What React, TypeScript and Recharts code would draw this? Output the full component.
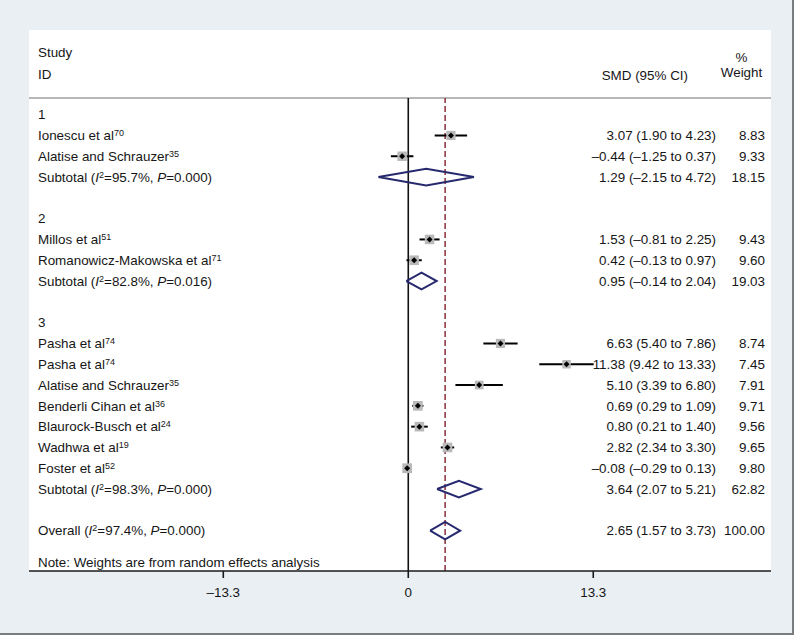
import React from 'react';
import { ComposedChart, Scatter, XAxis, YAxis, ErrorBar, ReferenceLine } from 'recharts';

// ---------- data ----------
const groupNames = ['1', '2', '3'];
const groupRows = [0, 5, 10];

const studyNames = [
  'Ionescu et al', 'Alatise and Schrauzer', 'Millos et al', 'Romanowicz-Makowska et al',
  'Pasha et al', 'Pasha et al', 'Alatise and Schrauzer', 'Benderli Cihan et al',
  'Blaurock-Busch et al', 'Wadhwa et al', 'Foster et al',
];
const studyRefs = ['70', '35', '51', '71', '74', '74', '35', '36', '24', '19', '52'];
const studyRows = [1, 2, 6, 7, 11, 12, 13, 14, 15, 16, 17];
const studySmd = [3.07, -0.44, 1.53, 0.42, 6.63, 11.38, 5.1, 0.69, 0.8, 2.82, -0.08];
const studyLow = [1.9, -1.25, 0.81, -0.13, 5.4, 9.42, 3.39, 0.29, 0.21, 2.34, -0.29];
const studyHigh = [4.23, 0.37, 2.25, 0.97, 7.86, 13.33, 6.8, 1.09, 1.4, 3.3, 0.13];
const studyWeights = [8.83, 9.33, 9.43, 9.6, 8.74, 7.45, 7.91, 9.71, 9.56, 9.65, 9.8];
const studySmdText = [
  '3.07 (1.90 to 4.23)', '–0.44 (–1.25 to 0.37)', '1.53 (–0.81 to 2.25)', '0.42 (–0.13 to 0.97)',
  '6.63 (5.40 to 7.86)', '11.38 (9.42 to 13.33)', '5.10 (3.39 to 6.80)', '0.69 (0.29 to 1.09)',
  '0.80 (0.21 to 1.40)', '2.82 (2.34 to 3.30)', '–0.08 (–0.29 to 0.13)',
];

const subtotalRows = [3, 8, 18];
const subtotalI2 = ['95.7', '82.8', '98.3'];
const subtotalP = ['0.000', '0.016', '0.000'];
const subtotalSmd = [1.29, 0.95, 3.64];
const subtotalLow = [-2.15, -0.14, 2.07];
const subtotalHigh = [4.72, 2.04, 5.21];
const subtotalWeights = ['18.15', '19.03', '62.82'];

const overallRow = 20;
const overallI2 = '97.4';
const overallP = '0.000';
const overallSmd = 2.65;
const overallLow = 1.57;
const overallHigh = 3.73;
const overallWeight = '100.00';

const noteRow = 21.5;
const noteText = 'Note: Weights are from random effects analysis';

const xTicks = [-13.3, 0, 13.3];
const xDomain = [-27.27, 26.08];
const yDomain = [-0.8, 21.94];

// ---------- helpers ----------
const FONT = '"Liberation Sans", Arial, sans-serif';
const FS = 13.4;
const TXT = '#161616';
const NAVY = '#27296f';

const fmt = (v: number) => (v < 0 ? '–' : '') + Math.abs(v).toFixed(2);

type Seg = { t: string; sup?: boolean; it?: boolean };
type RowInfo = { label: Seg[]; smd?: string; weight?: string };

const statLabel = (head: string, i2: string, p: string): Seg[] => [
  { t: head + ' (' },
  { t: 'I', it: true },
  { t: '2', sup: true },
  { t: '=' + i2 + '%, ' },
  { t: 'P', it: true },
  { t: '=' + p + ')' },
];

const rowMap = new Map<number, RowInfo>();
groupRows.forEach((r, i) => rowMap.set(r, { label: [{ t: groupNames[i] }] }));
studyRows.forEach((r, i) =>
  rowMap.set(r, {
    label: [{ t: studyNames[i] }, { t: studyRefs[i], sup: true }],
    smd: studySmdText[i],
    weight: studyWeights[i].toFixed(2),
  })
);
subtotalRows.forEach((r, i) =>
  rowMap.set(r, {
    label: statLabel('Subtotal', subtotalI2[i], subtotalP[i]),
    smd: `${fmt(subtotalSmd[i])} (${fmt(subtotalLow[i])} to ${fmt(subtotalHigh[i])})`,
    weight: subtotalWeights[i],
  })
);
rowMap.set(overallRow, {
  label: statLabel('Overall', overallI2, overallP),
  smd: `${fmt(overallSmd)} (${fmt(overallLow)} to ${fmt(overallHigh)})`,
  weight: overallWeight,
});
rowMap.set(noteRow, { label: [{ t: noteText }] });

const yTicks = Array.from(rowMap.keys()).sort((a, b) => a - b);

const studyData = studyRows.map((r, i) => ({
  x: studySmd[i],
  y: r,
  w: studyWeights[i],
  err: [studySmd[i] - studyLow[i], studyHigh[i] - studySmd[i]],
}));

const diamondData = (est: number, lo: number, hi: number, row: number, h: number) => [
  { x: lo, y: row },
  { x: est, y: row - h },
  { x: hi, y: row },
  { x: est, y: row + h },
  { x: lo, y: row },
];
const diamonds = [
  ...subtotalRows.map((r, i) => diamondData(subtotalSmd[i], subtotalLow[i], subtotalHigh[i], r, 0.4)),
  diamondData(overallSmd, overallLow, overallHigh, overallRow, 0.42),
];

// ---------- renderers ----------
function Label({ segs, x, y }: { segs: Seg[]; x: number; y: number }) {
  let raised = false;
  return (
    <text x={x} y={y + FS * 0.35} fontFamily={FONT} fontSize={FS} fill={TXT} textAnchor="start">
      {segs.map((s, k) => {
        let dy: number | undefined = undefined;
        if (s.sup && !raised) { dy = -4; raised = true; }
        else if (!s.sup && raised) { dy = 4; raised = false; }
        return (
          <tspan key={k} dy={dy} fontSize={s.sup ? 9 : FS} fontStyle={s.it ? 'italic' : 'normal'}>
            {s.t}
          </tspan>
        );
      })}
    </text>
  );
}

function RowTick(props: any) {
  const { y, payload } = props;
  const info = rowMap.get(payload.value);
  if (!info) return <g />;
  return (
    <g>
      <Label segs={info.label} x={38} y={y} />
      {info.smd && (
        <text x={716} y={y + FS * 0.35} fontFamily={FONT} fontSize={FS} fill={TXT} textAnchor="end">
          {info.smd}
        </text>
      )}
      {info.weight && (
        <text x={765} y={y + FS * 0.35} fontFamily={FONT} fontSize={FS} fill={TXT} textAnchor="end">
          {info.weight}
        </text>
      )}
    </g>
  );
}

const SquareShape = (p: any) => {
  const s = 3.1 * Math.sqrt(p.payload.w);
  return <rect x={p.cx - s / 2} y={p.cy - s / 2} width={s} height={s} fill="#b9b9b9" />;
};

const DotShape = (p: any) => {
  const r = 3;
  return (
    <path
      d={`M${p.cx - r},${p.cy} L${p.cx},${p.cy - r} L${p.cx + r},${p.cy} L${p.cx},${p.cy + r} Z`}
      fill="#000"
    />
  );
};

const NoShape = () => <g />;

export default function App() {
  return (
    <div style={{ position: 'absolute', left: 0, top: 0, width: 794, height: 635, background: '#e9eff3', overflow: 'hidden' }}>
      <div style={{ position: 'absolute', left: 29, top: 30, width: 742, height: 541, background: '#ffffff' }} />
      <div style={{ position: 'absolute', left: 792, top: 0, width: 2, height: 635, background: '#7a7d80' }} />
      <div style={{ position: 'absolute', left: 0, top: 633, width: 794, height: 2, background: '#7a7d80' }} />
      <div style={{ position: 'absolute', left: 0, top: 0 }}>
        <ComposedChart width={794} height={635} margin={{ top: 98, right: 23, bottom: 0, left: 28 }}>
          <XAxis
            type="number"
            dataKey="x"
            domain={xDomain}
            allowDataOverflow
            ticks={xTicks}
            interval={0}
            height={64}
            tickSize={7}
            tickMargin={9}
            axisLine={{ stroke: '#1a1a1a', strokeWidth: 1.6 }}
            tickLine={{ stroke: '#1a1a1a', strokeWidth: 1.6 }}
            tick={{ fontFamily: FONT, fontSize: FS, fill: TXT }}
            tickFormatter={(v: number) => (v < 0 ? '–' + Math.abs(v) : String(v))}
          />
          <YAxis
            type="number"
            dataKey="y"
            domain={yDomain}
            allowDataOverflow
            reversed
            ticks={yTicks}
            interval={0}
            width={1}
            axisLine={false}
            tickLine={false}
            tick={(p: any) => <RowTick {...p} />}
          />
          <ReferenceLine y={yDomain[0]} stroke="#a0a0a0" strokeWidth={1.5} />
          <ReferenceLine x={0} stroke="#111" strokeWidth={1.6} />
          <ReferenceLine x={overallSmd} stroke="#8f3a45" strokeWidth={1.6} strokeDasharray="6 3" />
          <Scatter data={studyData} shape={SquareShape} isAnimationActive={false} />
          <Scatter data={studyData} shape={DotShape} isAnimationActive={false}>
            <ErrorBar dataKey="err" direction="x" width={0} stroke="#000" strokeWidth={2} />
          </Scatter>
          {diamonds.map((d, i) => (
            <Scatter
              key={i}
              data={d}
              shape={NoShape}
              fill="none"
              line={{ stroke: NAVY, strokeWidth: 2, strokeLinejoin: 'miter' }}
              lineType="joint"
              isAnimationActive={false}
            />
          ))}
        </ComposedChart>
      </div>
      <svg width={794} height={635} style={{ position: 'absolute', left: 0, top: 0, pointerEvents: 'none' }}>
        <g fontFamily={FONT} fontSize={FS} fill={TXT}>
          <text x={38} y={52} dy="0.35em">Study</text>
          <text x={38} y={74} dy="0.35em">ID</text>
          <text x={688} y={75} dy="0.35em" textAnchor="end">SMD (95% CI)</text>
          <text x={741.5} y={57} dy="0.35em" textAnchor="middle">%</text>
          <text x={741.5} y={72} dy="0.35em" textAnchor="middle">Weight</text>
        </g>
      </svg>
    </div>
  );
}
